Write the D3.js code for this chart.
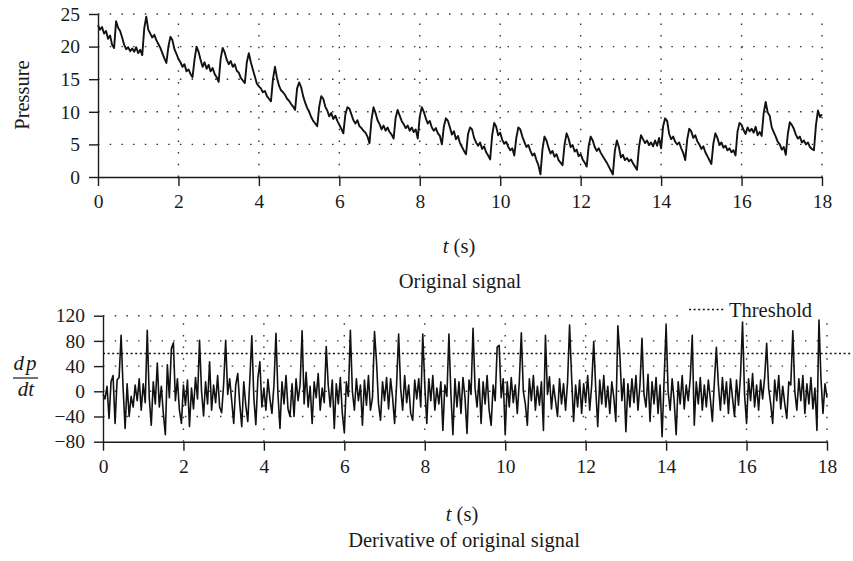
<!DOCTYPE html>
<html><head><meta charset="utf-8">
<script src="https://cdn.jsdelivr.net/npm/d3@7"></script>
<style>
body{margin:0;background:#fff;}
svg text{font-family:"Liberation Serif","Times New Roman",serif;fill:#1a1a1a;}
</style></head><body>
<svg id="c" width="853" height="561"></svg>
<script>
// ---- data ----
const pressureStep = 0.05; // seconds between samples, starting at t = 0
const pressure = [
23.3,22.6,23.0,22.0,22.4,21.2,21.7,20.3,19.8,23.9,22.9,22.4,21.4,20.3,19.6,19.9,19.3,19.7,19.2,19.9,
19.0,19.5,18.7,22.8,24.6,22.6,22.0,21.4,21.8,21.0,20.4,19.8,19.0,18.2,17.5,20.0,21.5,21.0,19.6,18.9,
18.1,17.6,16.9,17.3,16.2,16.5,15.8,15.3,18.0,20.0,19.2,18.0,16.9,17.6,16.6,17.2,16.2,16.7,15.8,15.3,
14.6,18.2,19.8,19.1,18.0,17.3,17.8,16.9,17.3,16.3,16.0,15.2,14.8,14.4,17.6,19.0,17.6,16.5,15.4,14.3,
13.9,13.6,13.0,13.2,12.4,12.0,11.6,15.0,16.9,15.2,14.0,13.3,13.0,12.6,12.0,11.7,11.2,10.8,10.3,13.6,
14.5,13.8,12.4,11.4,10.6,10.0,9.2,8.6,8.2,7.8,10.8,12.4,12.0,10.8,10.2,9.3,9.8,8.9,9.4,8.6,
8.0,7.4,6.7,9.6,10.7,10.5,9.6,8.7,8.2,8.7,7.8,7.5,7.1,6.8,6.2,5.2,8.8,10.7,9.8,8.7,
8.1,7.3,7.9,7.1,7.6,6.9,6.5,5.9,9.1,10.3,9.4,8.6,8.1,7.5,7.9,7.1,7.6,6.9,7.3,5.9,
9.3,10.7,10.0,9.0,8.2,8.6,7.6,7.1,7.5,6.7,6.3,5.0,7.8,9.0,8.6,7.6,6.5,7.0,5.8,6.3,
5.2,4.6,4.0,3.5,6.6,7.6,7.3,6.0,5.3,4.8,5.3,4.3,4.7,3.8,3.3,2.7,6.4,8.3,7.7,6.4,
6.8,5.7,5.1,5.4,4.6,4.1,4.4,3.3,6.0,7.6,7.3,6.2,5.4,4.6,4.9,4.0,3.3,3.6,2.6,1.8,
0.4,4.2,6.2,5.6,4.5,3.6,4.0,3.1,3.5,2.6,2.2,1.8,5.0,6.7,5.9,4.6,4.9,3.9,4.2,3.2,
3.5,2.7,2.2,1.6,4.8,6.2,5.6,4.6,4.0,4.4,3.7,3.2,2.7,2.2,1.6,1.0,0.4,4.0,5.6,4.6,
3.0,3.4,2.6,2.9,2.4,2.7,2.1,1.6,1.1,4.6,6.4,5.8,5.2,5.6,4.9,5.3,4.7,5.6,4.8,6.0,
4.4,7.8,9.0,8.6,6.6,5.8,6.2,5.4,5.0,5.3,4.4,3.7,2.6,5.8,7.4,7.0,6.0,6.4,5.5,5.0,
4.3,4.7,3.8,3.2,2.6,2.0,5.2,6.7,6.0,4.9,5.3,4.5,4.8,4.1,4.4,3.8,4.1,3.3,7.0,8.3,
8.0,7.2,6.6,7.6,7.0,7.4,6.8,7.7,6.4,6.9,6.3,9.8,11.5,9.9,9.4,7.6,6.9,6.2,5.4,5.0,
4.2,4.6,3.4,6.6,8.4,8.0,7.4,6.5,5.9,6.2,5.3,5.6,5.0,5.3,4.6,4.3,4.1,8.0,10.2,9.2,
9.6
];
const derivStep = 0.05;
const derivative = [
-5,-12,8,-43,15,25,-51,18,22,89,5,-59,12,-40,-8,-25,10,-15,20,-30,
12,-18,97,-10,-54,15,-20,45,-25,8,-35,-69,42,-10,68,77,-15,20,-30,-51,
10,-22,18,-56,5,-28,22,-12,81,0,-39,15,-20,47,-30,10,-18,25,-25,-34,
12,81,-5,20,-15,-51,10,28,-20,-56,15,-22,-48,18,88,-10,-53,20,47,-25,
5,-30,19,-12,-35,10,92,-5,-59,15,-20,25,-28,-40,12,-40,20,-15,10,96,
-20,30,-25,8,-51,15,-10,28,-30,5,-18,71,10,-25,18,-59,12,-20,22,-35,
-66,15,-8,97,0,-30,20,-15,10,-54,18,-22,25,-30,-10,95,47,-20,-46,15,
-15,22,-28,20,-10,-51,12,91,5,-30,25,-18,10,-35,-46,18,-12,20,-25,91,
10,-51,20,-15,25,-30,5,-20,15,-62,10,-8,91,-5,-69,20,-25,15,-35,22,
-10,-67,18,-5,100,5,-25,20,-51,15,-20,25,-30,-54,10,-15,70,73,-10,20,
-69,15,-25,22,-18,10,-35,15,93,0,-20,-54,20,-15,25,-30,8,-22,15,-62,
89,-5,23,-28,10,-15,-40,20,-20,12,-30,15,105,23,-48,10,-25,18,-35,12,
-18,25,-30,10,79,5,-56,18,-20,25,-25,8,-35,15,-10,-48,104,58,-15,20,
-64,12,-25,20,-18,25,-30,10,84,-5,-25,27,-48,15,-20,22,-35,10,-72,18,
105,0,-30,20,-15,-69,15,-20,25,-28,10,-15,20,89,-54,15,-20,22,-30,10,
-25,18,-12,-48,15,70,10,-30,22,-20,15,-35,20,-10,-40,18,-22,25,110,-5,
-51,20,-15,28,-25,10,-30,18,-12,22,76,5,-20,-51,18,-15,25,-28,8,-20,
-43,15,10,96,0,-30,20,-15,25,-35,12,-20,22,-28,5,-62,113,20,-35,12,
-10
];
const timeTicks = [0,2,4,6,8,10,12,14,16,18];
const pressureTicks = [0,5,10,15,20,25];
const derivTicks = [-80,-40,0,40,80,120];
const thresholdValue = 60;
const labels = {top:"Original signal", bottom:"Derivative of original signal", x:"(s)", y1:"Pressure", legend:"Threshold"};

// ---- drawing ----
const svg = d3.select("#c");
const ink = "#1a1a1a";
const gridColor = "#333";

function panel(xr, yr, xDom, yDom, yTicks, data, step, lw){
  const x = d3.scaleLinear().domain(xDom).range(xr);
  const y = d3.scaleLinear().domain(yDom).range(yr);
  const g = svg.append("g");
  g.selectAll(".hg").data(yTicks.filter(v=>v!==yDom[0])).join("line")
    .attr("x1", x(xDom[0])).attr("x2", x(xDom[1]))
    .attr("y1", d=>y(d)).attr("y2", d=>y(d))
    .attr("stroke", gridColor).attr("stroke-width",1.4).attr("stroke-dasharray","1.5,10.2");
  g.selectAll(".vg").data(timeTicks.filter(v=>v!==xDom[0])).join("line")
    .attr("x1", d=>x(d)).attr("x2", d=>x(d))
    .attr("y1", y(yDom[0])).attr("y2", y(yDom[1]))
    .attr("stroke", gridColor).attr("stroke-width",1.4).attr("stroke-dasharray","1.5,10.2");
  const line = d3.line().x((d,i)=>x(i*step)).y(d=>y(d));
  g.append("path").datum(data).attr("d", line)
    .attr("fill","none").attr("stroke","#111").attr("stroke-width",lw).attr("stroke-linejoin","round");
  const xa = g.append("g").attr("transform",`translate(0,${y(yDom[0])})`)
    .call(d3.axisBottom(x).tickValues(timeTicks).tickSize(9).tickSizeOuter(0).tickPadding(8).tickFormat(d3.format("d")));
  const ya = g.append("g").attr("transform",`translate(${x(xDom[0])},0)`)
    .call(d3.axisLeft(y).tickValues(yTicks).tickSize(9).tickSizeOuter(0).tickPadding(9));
  [xa,ya].forEach(a=>{
    a.select(".domain").attr("stroke",ink).attr("stroke-width",1.4);
    a.selectAll(".tick line").attr("stroke",ink).attr("stroke-width",1.4);
    a.selectAll(".tick text").attr("font-size",19.5).attr("font-family","Liberation Serif, serif").attr("fill",ink);
  });
  return {x,y,g};
}

const topPanel = panel([98,822],[177,14],[0,18],[0,25],pressureTicks,pressure,pressureStep,1.9);
const botPanel = panel([103,827],[441.7,315.7],[0,18],[-80,120],derivTicks,derivative,derivStep,1.6);

svg.append("line").attr("x1", botPanel.x(0)).attr("x2", 851)
  .attr("y1", botPanel.y(thresholdValue)).attr("y2", botPanel.y(thresholdValue))
  .attr("stroke","#111").attr("stroke-width",1.3).attr("stroke-dasharray","2,2.6");

svg.append("rect").attr("x",686).attr("y",299).attr("width",138).attr("height",20).attr("fill","#fff");
svg.append("line").attr("x1",689).attr("x2",724).attr("y1",309.5).attr("y2",309.5)
  .attr("stroke","#111").attr("stroke-width",1.3).attr("stroke-dasharray","2,2.6");
svg.append("text").attr("x",729).attr("y",317).attr("font-size",20.5).text(labels.legend);

function tLabel(cx, y){
  const t = svg.append("text").attr("x",cx).attr("y",y).attr("text-anchor","middle").attr("font-size",20.5);
  t.append("tspan").attr("font-style","italic").text("t");
  t.append("tspan").text(" " + labels.x);
}
tLabel(459, 253);
svg.append("text").attr("x",460).attr("y",288).attr("text-anchor","middle").attr("font-size",20.5).text(labels.top);
tLabel(462, 521);
svg.append("text").attr("x",464).attr("y",547).attr("text-anchor","middle").attr("font-size",20.5).text(labels.bottom);

svg.append("text").attr("transform","translate(29,95) rotate(-90)").attr("text-anchor","middle")
  .attr("font-size",20.5).text(labels.y1);

svg.append("text").attr("x",26).attr("y",370).attr("text-anchor","middle").attr("font-size",21)
  .attr("font-style","italic").attr("letter-spacing","2px").text("dp");
svg.append("line").attr("x1",13).attr("x2",38).attr("y1",378).attr("y2",378).attr("stroke",ink).attr("stroke-width",1.2);
svg.append("text").attr("x",26).attr("y",396).attr("text-anchor","middle").attr("font-size",21)
  .attr("font-style","italic").text("dt");
</script>
</body></html>
